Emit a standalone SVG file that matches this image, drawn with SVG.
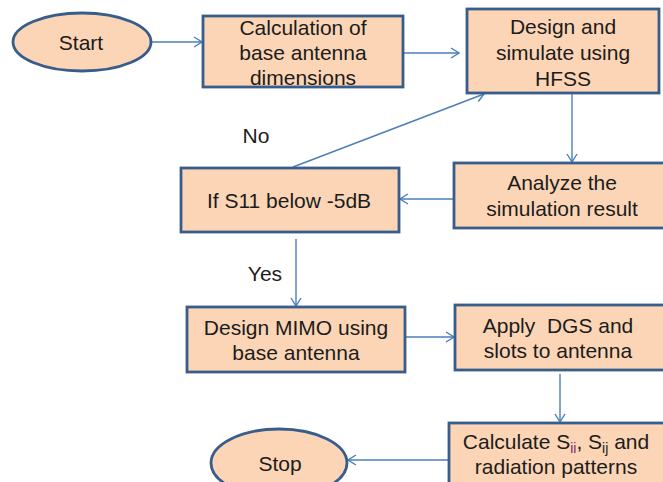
<svg xmlns="http://www.w3.org/2000/svg" width="663" height="482" viewBox="0 0 663 482">
<defs>
<marker id="arr" markerWidth="10" markerHeight="12" refX="9" refY="6" orient="auto" markerUnits="userSpaceOnUse">
<path d="M1,1 L9,6 L1,11" fill="none" stroke="#4A7EBB" stroke-width="1.4"/>
</marker>
<style>
.shape{fill:#FBD5B5;stroke:#385D8A;stroke-width:2.8}
.t{font-family:"Liberation Sans",Arial,sans-serif;font-size:21px;fill:#1c1c1c;text-anchor:middle}
.c{fill:none;stroke:#4A7EBB;stroke-width:1.4;marker-end:url(#arr)}
.sub{font-size:14px}
</style>
</defs>
<rect width="663" height="482" fill="#ffffff"/>
<g id="connectors">
<line class="c" x1="151" y1="42" x2="202" y2="42"/>
<line class="c" x1="404" y1="53" x2="459" y2="53"/>
<line class="c" x1="572" y1="94" x2="572" y2="162"/>
<line class="c" x1="453" y1="199" x2="400" y2="199"/>
<line class="c" x1="293" y1="167" x2="484" y2="94"/>
<line class="c" x1="296" y1="239" x2="296" y2="306"/>
<line class="c" x1="406" y1="337" x2="454" y2="337"/>
<line class="c" x1="560" y1="374" x2="560" y2="422"/>
<line class="c" x1="448" y1="460" x2="348" y2="460"/>
</g>
<g id="start">
<ellipse class="shape" cx="82" cy="42" rx="69" ry="29"/>
<text class="t" x="81" y="50">Start</text>
</g>
<g id="calc-dims">
<rect class="shape" x="203" y="16" width="200" height="71"/>
<text class="t" x="303" y="35">Calculation of</text>
<text class="t" x="303" y="60">base antenna</text>
<text class="t" x="303" y="85">dimensions</text>
</g>
<g id="design-hfss">
<rect class="shape" x="467" y="9" width="192" height="84"/>
<text class="t" x="563" y="34">Design and</text>
<text class="t" x="563" y="60">simulate using</text>
<text class="t" x="563" y="86">HFSS</text>
</g>
<g id="analyze">
<rect class="shape" x="454" y="163" width="220" height="65"/>
<text class="t" x="562" y="190">Analyze the</text>
<text class="t" x="562" y="216">simulation result</text>
</g>
<g id="if-s11">
<rect class="shape" x="181" y="168" width="218" height="64"/>
<text class="t" x="289" y="208">If S11 below -5dB</text>
</g>
<g id="labels">
<text class="t" x="256" y="143">No</text>
<text class="t" x="265" y="281">Yes</text>
</g>
<g id="design-mimo">
<rect class="shape" x="187" y="307" width="218" height="65"/>
<text class="t" x="296" y="335">Design MIMO using</text>
<text class="t" x="296" y="360">base antenna</text>
</g>
<g id="apply-dgs">
<rect class="shape" x="455" y="305" width="220" height="65"/>
<text class="t" x="558" y="333" xml:space="preserve">Apply  DGS and</text>
<text class="t" x="558" y="358">slots to antenna</text>
</g>
<g id="calc-s">
<rect class="shape" x="449" y="423" width="220" height="75"/>
<text class="t" x="556" y="449">Calculate S<tspan class="sub" dy="4" fill="#7B2C6B">ii</tspan><tspan dy="-4">, S</tspan><tspan class="sub" dy="4">ij</tspan><tspan dy="-4"> and</tspan></text>
<text class="t" x="556" y="474">radiation patterns</text>
</g>
<g id="stop">
<ellipse class="shape" cx="279" cy="463" rx="68" ry="34"/>
<text class="t" x="280" y="471">Stop</text>
</g>
</svg>
